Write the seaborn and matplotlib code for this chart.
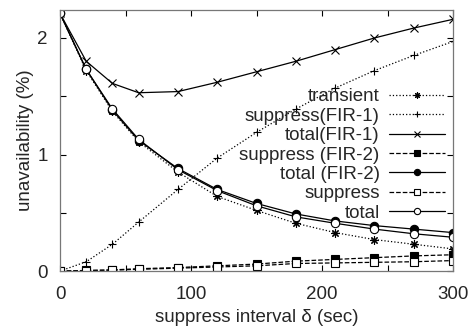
import numpy as np
import pandas as pd
import matplotlib
matplotlib.use("Agg")
import matplotlib.pyplot as plt
import seaborn as sns

# suppress interval (sec)
interval = [0, 20, 40, 60, 90, 120, 150, 180, 210, 240, 270, 300]

transient = [2.21, 1.72, 1.37, 1.11, 0.85, 0.64, 0.52, 0.41, 0.33, 0.27, 0.23, 0.19]
suppress_fir1 = [0.0, 0.08, 0.23, 0.42, 0.70, 0.97, 1.19, 1.39, 1.57, 1.72, 1.85, 1.97]
total_fir1 = [2.21, 1.80, 1.61, 1.53, 1.54, 1.62, 1.71, 1.80, 1.90, 2.00, 2.085, 2.16]
suppress_fir2 = [0.0, 0.005, 0.01, 0.02, 0.03, 0.045, 0.06, 0.085, 0.10, 0.115, 0.13, 0.14]
total_fir2 = [2.21, 1.73, 1.38, 1.12, 0.88, 0.70, 0.58, 0.49, 0.43, 0.39, 0.36, 0.33]
suppress_ = [0.0, 0.004, 0.008, 0.015, 0.025, 0.035, 0.045, 0.065, 0.07, 0.075, 0.08, 0.09]
total_ = [2.21, 1.73, 1.39, 1.13, 0.87, 0.69, 0.56, 0.465, 0.41, 0.36, 0.32, 0.29]

series = [
    ("transient", transient, ":", (8, 2, 0), "black"),
    ("suppress(FIR-1)", suppress_fir1, ":", "+", "black"),
    ("total(FIR-1)", total_fir1, "-", "x", "black"),
    ("suppress (FIR-2)", suppress_fir2, "--", "s", "black"),
    ("total (FIR-2)", total_fir2, "-", "o", "black"),
    ("suppress", suppress_, "--", "s", "white"),
    ("total", total_, "-", "o", "white"),
]

sns.set_style("ticks")
plt.rcParams["font.family"] = ["Liberation Sans", "DejaVu Sans"]

fig, ax = plt.subplots(figsize=(4.69, 3.33), dpi=100)
for name, vals, ls, mk, fc in series:
    df = pd.DataFrame({"x": interval, "y": vals})
    sns.lineplot(data=df, x="x", y="y", ax=ax, color="black", linestyle=ls,
                 linewidth=0.9, marker=mk, markersize=6,
                 markerfacecolor=fc, markeredgecolor="black", markeredgewidth=0.8,
                 label=name)

ax.set_xlim(0, 300)
ax.set_ylim(0, 2.24)
ax.set_xticks([0, 100, 200, 300])
ax.set_xticks([50, 150, 250], minor=True)
ax.set_yticks([0, 1, 2])
ax.set_yticks([0.5, 1.5], minor=True)
ax.tick_params(which="both", direction="in", top=True, right=True,
               length=4, width=0.8, color="black", labelsize=13.5)
ax.tick_params(axis="x", pad=11)
ax.tick_params(axis="y", pad=9)
for s in ax.spines.values():
    s.set_color("#777777")
    s.set_linewidth(0.9)
ax.set_xlabel("suppress interval δ (sec)", fontsize=13.5, labelpad=4)
ax.set_ylabel("unavailability (%)", fontsize=13.5, labelpad=2)

leg = ax.legend(loc="upper right", bbox_to_anchor=(0.98, 0.70), markerfirst=False,
                frameon=False, fontsize=13.5, handlelength=3.0, labelspacing=0.12,
                borderaxespad=0.0, borderpad=0.0, handletextpad=0.5, markerscale=0.75)

fig.subplots_adjust(left=0.128, right=0.966, top=0.97, bottom=0.186)
fig.savefig("out.png", dpi=100)
